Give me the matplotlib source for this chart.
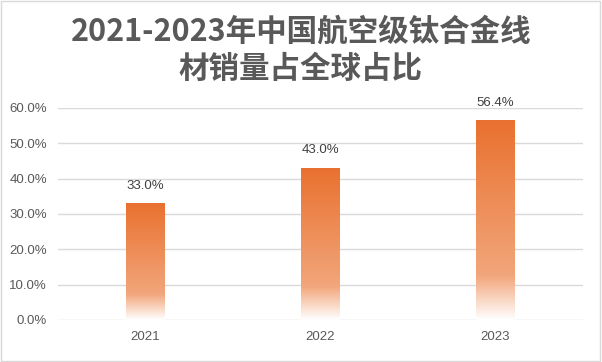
import numpy as np
import matplotlib.pyplot as plt
from matplotlib.colors import LinearSegmentedColormap
from matplotlib.patches import Rectangle

plt.rcParams['font.family'] = ['Liberation Sans', 'Noto Sans CJK SC', 'DejaVu Sans']

years = ['2021', '2022', '2023']
shares = [33.0, 43.0, 56.4]
title = '2021-2023年中国航空级钛合金线\n材销量占全球占比'

fig = plt.figure(figsize=(6.02, 3.62), dpi=100)
fig.patches.append(Rectangle((0.002, 0.003), 0.995, 0.993, transform=fig.transFigure,
                             fill=False, edgecolor='#D9D9D9', linewidth=1))
ax = fig.add_axes([58 / 602, 1 - 320 / 362, 525 / 602, 212 / 362])

# gradient: dark orange at top, lighter down to ~78%, then fade to white
cmap = LinearSegmentedColormap.from_list(
    'bar', [(0.0, '#FFFFFF'), (0.22, '#F2A67B'), (1.0, '#E9712F')])
grad = np.linspace(0, 1, 256).reshape(-1, 1)

x = np.arange(len(years))
width = 0.22
for xi, v in zip(x, shares):
    ax.imshow(grad, cmap=cmap, origin='lower', aspect='auto',
              extent=(xi - width / 2, xi + width / 2, 0, v), zorder=2)
    ax.text(xi, v + 3.3, f'{v:.1f}%', ha='center', va='bottom',
            fontsize=9.5, color='#404040')

ax.set_xlim(-0.5, len(years) - 0.5)
ax.set_ylim(0, 60)
ax.set_yticks(np.arange(0, 61, 10))
ax.set_yticklabels([f'{t:.1f}%' for t in np.arange(0, 61, 10)])
ax.set_xticks(x)
ax.set_xticklabels(years)
ax.tick_params(length=0, labelsize=9.5, labelcolor='#595959', pad=8)
ax.grid(axis='y', color='#D9D9D9', linewidth=1, zorder=0)
ax.set_axisbelow(True)
for s in ax.spines.values():
    s.set_visible(False)

fig.text(0.5, 1 - 50 / 362, title, ha='center', va='center', fontsize=22,
         fontweight='bold', color='#595959', linespacing=1.22,
         family=['Noto Sans CJK SC', 'DejaVu Sans'])

fig.savefig('out.png', dpi=100)
